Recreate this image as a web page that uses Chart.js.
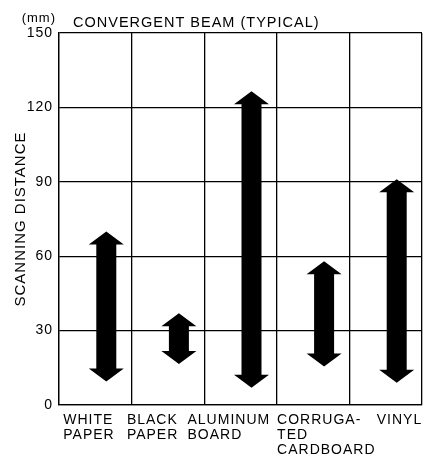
<!DOCTYPE html>
<html>
<head>
<meta charset="utf-8">
<script src="https://cdn.jsdelivr.net/npm/chart.js@4.4.1/dist/chart.umd.min.js"></script>
<style>
  html, body { margin: 0; padding: 0; background: #fff; }
  #wrap { width: 435px; height: 461px; }
</style>
</head>
<body>
<div id="wrap"><canvas id="chart"></canvas></div>
<script>
// data
const categories = [
  ["WHITE", "PAPER"],
  ["BLACK", "PAPER"],
  ["ALUMINUM", "BOARD"],
  ["CORRUGA-", "TED", "CARDBOARD"],
  ["VINYL"],
];
const rangeLow = [9.5, 16.5, 7, 15.5, 9];
const rangeHigh = [70, 37, 126.5, 58, 91];
const yTicks = [0, 30, 60, 90, 120, 150];
const unitLabel = "(mm)";
const chartTitle = "CONVERGENT BEAM (TYPICAL)";
const axisTitle = "SCANNING DISTANCE";

const FONT = '"Liberation Sans", Arial, Helvetica, sans-serif';
const INK = "#000";

// the printed type is a little letter-spaced
const spacing = {
  id: "spacing",
  beforeUpdate(chart) { chart.ctx.letterSpacing = "1px"; },
  beforeDraw(chart) { chart.ctx.letterSpacing = "1px"; },
};

// double headed arrows instead of plain bars
const arrows = {
  id: "arrows",
  beforeDatasetDraw(chart, args, opts) {
    const ctx = chart.ctx;
    ctx.save();
    ctx.fillStyle = INK;
    args.meta.data.forEach((el) => {
      const { x, y, base, width } = el.getProps(["x", "y", "base", "width"], true);
      const cx = x + opts.shift;
      const top = Math.min(y, base);
      const bot = Math.max(y, base);
      const hw = opts.headWidth / 2;
      const sw = width / 2;
      const hl = opts.headLength;
      ctx.beginPath();
      ctx.moveTo(cx, top);
      ctx.lineTo(cx + hw, top + hl);
      ctx.lineTo(cx + sw, top + hl);
      ctx.lineTo(cx + sw, bot - hl);
      ctx.lineTo(cx + hw, bot - hl);
      ctx.lineTo(cx, bot);
      ctx.lineTo(cx - hw, bot - hl);
      ctx.lineTo(cx - sw, bot - hl);
      ctx.lineTo(cx - sw, top + hl);
      ctx.lineTo(cx - hw, top + hl);
      ctx.closePath();
      ctx.fill();
    });
    ctx.restore();
    return false;
  },
};

// category names are typeset left-aligned, not quite centred on their columns
const xLabels = {
  id: "xLabels",
  afterDraw(chart, args, opts) {
    const { ctx } = chart;
    const xs = chart.scales.x;
    ctx.save();
    ctx.fillStyle = INK;
    ctx.font = opts.size + "px " + FONT;
    ctx.textAlign = "left";
    ctx.textBaseline = "top";
    chart.data.labels.forEach((lines, i) => {
      const x = xs.getPixelForValue(i) + opts.shift[i];
      lines.forEach((line, k) => {
        ctx.fillText(line, x, xs.top + opts.padding + k * opts.lineHeight);
      });
    });
    ctx.restore();
  },
};

const headings = {
  id: "headings",
  afterDraw(chart) {
    const { ctx, chartArea } = chart;
    ctx.save();
    ctx.fillStyle = INK;
    ctx.textBaseline = "alphabetic";
    ctx.font = "13px " + FONT;
    ctx.textAlign = "right";
    ctx.fillText(unitLabel, chartArea.left - 3, chartArea.top - 11);
    ctx.font = "14.5px " + FONT;
    ctx.textAlign = "left";
    ctx.fillText(chartTitle, chartArea.left + 14, chartArea.top - 6);
    ctx.restore();
  },
};

new Chart(document.getElementById("chart"), {
  type: "bar",
  data: {
    labels: categories,
    datasets: [
      {
        data: rangeLow.map((lo, i) => [lo, rangeHigh[i]]),
        backgroundColor: INK,
        barThickness: 20,
      },
    ],
  },
  options: {
    responsive: true,
    maintainAspectRatio: false,
    animation: false,
    layout: { padding: { top: 33, right: 13, bottom: 0, left: 0 } },
    plugins: {
      legend: { display: false },
      tooltip: { enabled: false },
      arrows: { shift: 11, headWidth: 35, headLength: 13 },
      xLabels: { size: 14, padding: 8, lineHeight: 15, shift: [-32, -41, -53, -36, -9] },
    },
    scales: {
      x: {
        grid: { color: INK, lineWidth: 1.3, drawTicks: false, offset: true },
        border: { color: INK, width: 1.3 },
        ticks: { display: false },
        afterFit(scale) {
          scale.paddingLeft = 0;
          scale.paddingRight = 0;
          scale.height = 56;
        },
      },
      y: {
        min: 0,
        max: 150,
        afterBuildTicks(scale) {
          scale.ticks = yTicks.map((v) => ({ value: v }));
        },
        grid: { color: INK, lineWidth: 1.3, drawTicks: false },
        border: { color: INK, width: 1.3 },
        ticks: {
          color: INK,
          padding: 6,
          font: { family: FONT, size: 14 },
        },
        title: {
          display: true,
          text: axisTitle,
          color: INK,
          font: { family: FONT, size: 15 },
          padding: { top: 12, bottom: 0 },
        },
        afterFit(scale) {
          scale.width = 59;
        },
      },
    },
  },
  plugins: [spacing, arrows, xLabels, headings],
});
</script>
</body>
</html>
